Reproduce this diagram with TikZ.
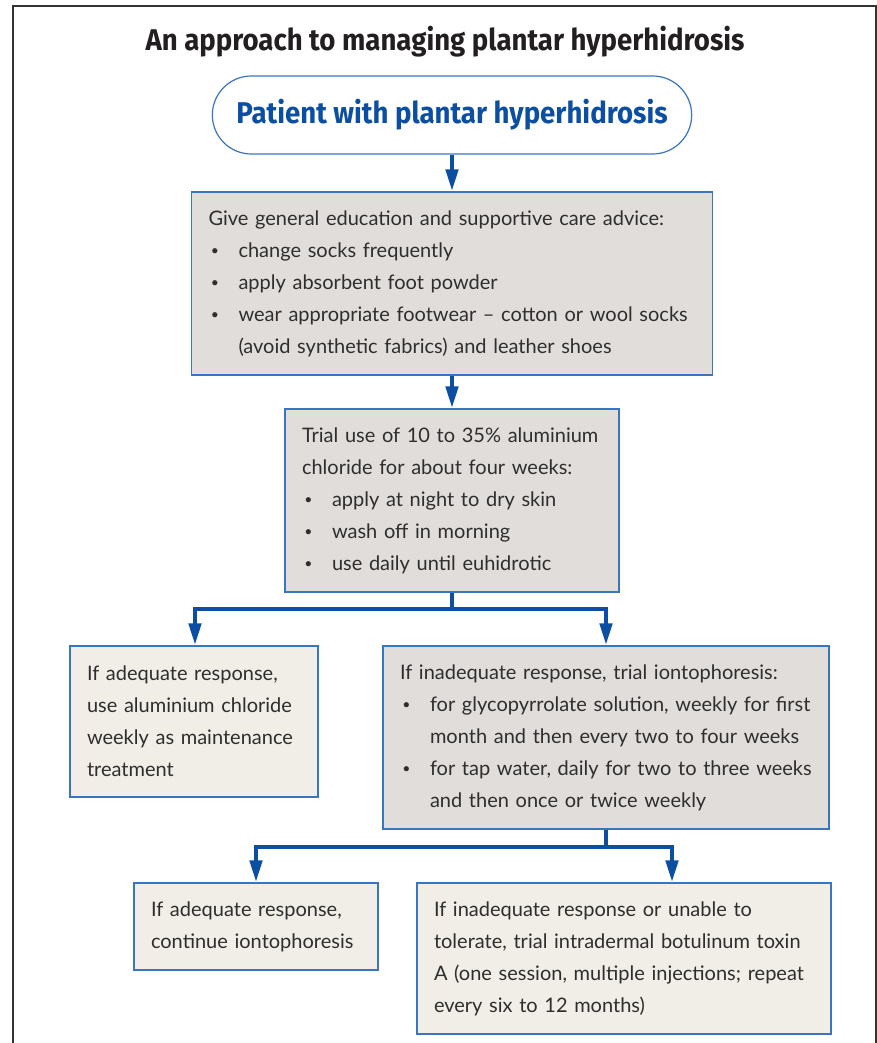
\documentclass[tikz,border=0pt]{standalone}
\usepackage{fontspec}
\setmainfont{Lato}
\newfontfamily\titlefont{Fira Sans Bold}[FakeStretch=0.92]
\newfontfamily\bulfont{Liberation Sans}
\usetikzlibrary{arrows.meta,shapes.misc}
\definecolor{fblue}{HTML}{0B4EA2}
\definecolor{bborder}{HTML}{3A76C0}
\definecolor{gfill}{HTML}{E1DDDB}
\definecolor{lfill}{HTML}{F1EEE7}
\definecolor{txt}{HTML}{2E2E2E}
\definecolor{ttl}{HTML}{231F20}
\newcommand\bul[1]{\par\hangindent=30pt\hangafter=1\noindent\makebox[30pt][l]{\hspace{3pt}{\bulfont\fontsize{19}{19}\selectfont\textbullet}}#1}
\tikzset{
  box/.style={draw=bborder, line width=1.3pt, rectangle, align=left, inner xsep=17pt, inner ysep=0pt,
    text=txt, font=\fontsize{20}{32}\selectfont},
  grey/.style={box, fill=gfill},
  light/.style={box, fill=lfill},
  conn/.style={draw=fblue, line width=4.5pt, -{Triangle[length=22pt,width=12pt]}},
  plain/.style={draw=fblue, line width=4.5pt},
}
\begin{document}
\begin{tikzpicture}[x=1pt,y=-1pt]
\useasboundingbox (0,0) rectangle (877,1043);
\draw[line width=1.5pt, color=black!80] (13,1043) -- (13,6) -- (876,6) -- (876,1043);
\node[text=ttl, font=\titlefont\fontsize{30}{36}\selectfont] (title) at (445,42) {An approach to managing plantar hyperhidrosis};
\node[draw=bborder, line width=1.2pt, fill=white, rounded rectangle, minimum width=486pt, minimum height=78pt,
  text=fblue, font=\titlefont\fontsize{30}{36}\selectfont] (start) at (452,115) {Patient with plantar hyperhidrosis};
\node[grey, text width=487pt, minimum height=183pt] (b1) at (452,283.5)
 {Give general education and supportive care advice:\bul{change socks frequently}\bul{apply absorbent foot powder}\bul{wear appropriate footwear – cotton or wool socks\newline (avoid synthetic fabrics) and leather shoes}\par};
\node[grey, text width=300pt, minimum height=183pt] (b2) at (452,500.5)
 {Trial use of 10 to 35\% aluminium\newline chloride for about four weeks:\bul{apply at night to dry skin}\bul{wash off in morning}\bul{use daily until euhidrotic}\par};
\node[light, text width=214pt, minimum height=151pt] (b3) at (194,721.5)
 {If adequate response,\newline use aluminium chloride\newline weekly as maintenance\newline treatment};
\node[grey, text width=412pt, minimum height=183pt] (b4) at (606,737.5)
 {If inadequate response, trial iontophoresis:\bul{for glycopyrrolate solution, weekly for first\newline month and then every two to four weeks}\bul{for tap water, daily for two to three weeks\newline and then once or twice weekly}\par};
\node[light, text width=210pt, minimum height=87pt] (b5) at (256,926.5)
 {If adequate response,\newline continue iontophoresis};
\node[light, text width=380pt, minimum height=151pt] (b6) at (624,958.5)
 {If inadequate response or unable to\newline tolerate, trial intradermal botulinum toxin\newline A (one session, multiple injections; repeat\newline every six to 12 months)};
\coordinate (j1) at (452,609);
\coordinate (j2) at (606,847);
\draw[conn] (start.south) -- (b1.north);
\draw[conn] (b1.south) -- (b2.north);
\draw[plain] (b2.south) -- (j1);
\draw[conn] (j1) -| ([xshift=1pt]b3.north);
\draw[conn] (j1) -| (b4.north);
\draw[plain] (b4.south) -- (j2);
\draw[conn] (j2) -| (b5.north);
\draw[conn] (j2) -| ([xshift=48pt]b6.north);
\end{tikzpicture}
\end{document}
